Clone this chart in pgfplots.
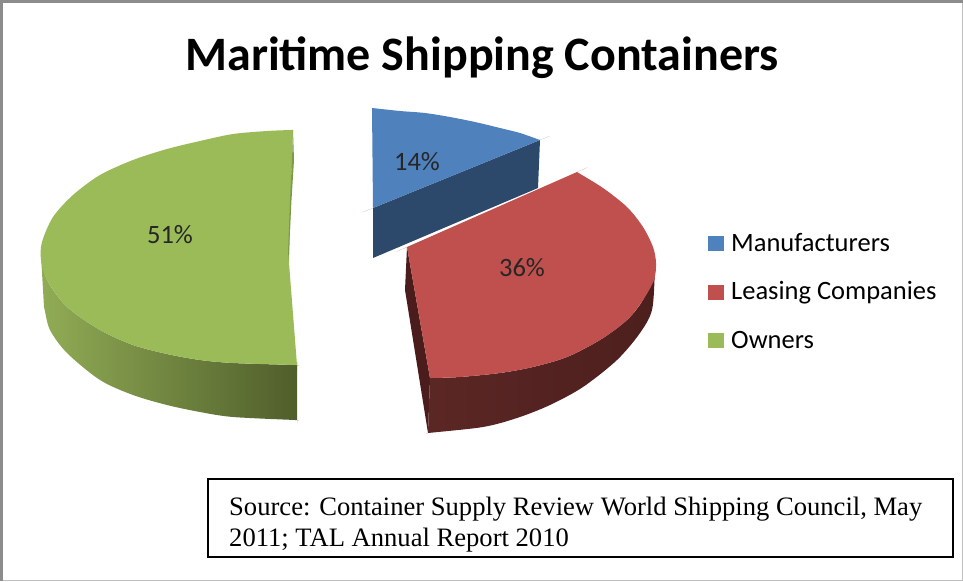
\documentclass[border=0pt]{standalone}
\usepackage{fontspec}
\setmainfont{Carlito}
\newfontfamily\serifbox{Liberation Serif}
\usepackage{pgfplots}
\pgfplotsset{compat=1.18}
\definecolor{cBlue}{RGB}{79,129,189}
\definecolor{cBlueSide}{RGB}{44,73,108}
\definecolor{cRed}{RGB}{192,80,77}
\definecolor{cRedL}{RGB}{92,39,37}
\definecolor{cRedM}{RGB}{76,31,29}
\definecolor{cRedFace}{RGB}{74,28,27}
\definecolor{cGreen}{RGB}{155,187,89}
\definecolor{cGreenL}{RGB}{145,172,85}
\definecolor{cGreenR}{RGB}{78,92,42}
\definecolor{cGreenEdge}{RGB}{125,155,70}
\begin{document}
\begin{tikzpicture}
\begin{axis}[
  width=963pt, height=581pt, scale only axis,
  xmin=0, xmax=963, ymin=0, ymax=581, y dir=reverse,
  axis lines=none, clip=true,
  legend style={at={(axis cs:708,232)}, anchor=north west, draw=none, fill=none,
    font=\fontsize{26.5}{28}\selectfont, row sep=23.5pt, inner sep=0pt,
    nodes={text height=19pt, text depth=6pt, inner sep=0pt},
    cells={anchor=west}, /tikz/column 1/.style={column sep=7pt}},
  legend image code/.code={\fill[#1] (0pt,-6.5pt) rectangle (16pt,8.5pt);},
]
% --- blue slice
\addplot[forget plot, fill=cBlueSide, draw=none] coordinates {
 (373,208) (540,140) (538,188) (373,258)} --cycle;
\addplot[fill=cBlue, draw=none, smooth, tension=0.5] coordinates {
 (372,108) (372,108) (372,108) (374,108.2) (400,111) (425,113) (450,117) (475,122) (500,128) (520,133) (538,139.3)
 (540,140) (540,140) (540,140) (373,208) (373,208) (373,208)} --cycle;
% --- red slice
\addplot[forget plot, fill=cRedFace, draw=none] coordinates {
 (407,247) (430,378) (428,433) (405,290)} --cycle;
\addplot[forget plot, draw=none, smooth, tension=0.5, left color=cRedL, middle color=cRedM, right color=cRedM] coordinates {
 (430,378) (430,378) (430,378) (432,378) (460,377) (500,373) (533,367) (567,357) (600,340) (627,320) (643,300) (654,274) (655,272) (655,272) (655,272) (654.8,274)
 (652,310) (640,333) (617,360) (583,387) (550,405) (517,418) (483,427) (430,432.8) (428,433) (428,433) (428,433)} --cycle;
\addplot[fill=cRed, draw=none, smooth, tension=0.5] coordinates {
 (407,247) (407,247) (407,247) (577,172) (577,172) (577,172) (579,173.2) (603,188) (627,207) (643,227) (653,247) (656,263) (654,280) (643,300)
 (627,320) (600,340) (567,357) (533,367) (500,373) (460,377) (432,378) (430,378) (430,378) (430,378)} --cycle;
% --- green slice
\addplot[forget plot, draw=none, smooth, tension=0.5, left color=cGreenL, right color=cGreenR] coordinates {
 (41,255) (41,255) (41,255) (41.5,257) (47,280) (67,307) (100,330) (133,345) (167,354) (200,360) (233,363) (295,365) (297,365) (297,365) (297,365)
 (297,420) (297,420) (297,420) (295,420) (233,417) (200,412) (167,405) (133,395) (100,380) (67,353) (50,330) (44.5,309) (44,307) (44,307) (44,307)} --cycle;
\addplot[fill=cGreen, draw=none, smooth, tension=0.5] coordinates {
 (293,130) (293,130) (293,130) (291,130) (267,131) (233,134) (200,141) (167,149) (133,160) (100,175) (73,195) (53,217)
 (42,242) (41,260) (47,280) (67,307) (100,330) (133,345) (167,354) (200,360) (233,363) (295,365) (297,365) (297,365) (297,365)
 (289,263) (289,263) (289,263) (292,160) (292,160) (292,160)} --cycle;
\addplot[forget plot, fill=cGreenEdge, draw=none] coordinates {
 (293,130) (294,160) (291.5,200) (288.5,260) (288,253) (290,200) (292,160)} --cycle;
\legend{Manufacturers, Leasing Companies, Owners}
% --- texts
\node[font=\fontsize{48}{52}\selectfont\bfseries] at (axis cs:482,57.5) {Maritime Shipping Containers};
\node[font=\fontsize{26.5}{28}\selectfont, text=black!85] at (axis cs:170,235) {51\%};
\node[font=\fontsize{26.5}{28}\selectfont, text=black!85] at (axis cs:417,162) {14\%};
\node[font=\fontsize{26.5}{28}\selectfont, text=black!85] at (axis cs:522,268) {36\%};
% --- frame and source box
\draw[black!25, line width=1pt] (axis cs:1,0) rectangle (axis cs:962.5,580.5);
\draw[black!45, line width=2.6pt] (axis cs:1.3,581) -- (axis cs:1.3,1.3) -- (axis cs:963,1.3);
\draw[black, line width=2pt] (axis cs:208,479) rectangle (axis cs:953,557);
\node[anchor=base west, font=\serifbox\fontsize{26.6}{30}\selectfont, inner sep=0pt] at (axis cs:229,515) {Source: Container Supply Review World Shipping Council, May};
\node[anchor=base west, font=\serifbox\fontsize{26.6}{30}\selectfont, inner sep=0pt] at (axis cs:229,546) {2011; TAL Annual Report 2010};
\end{axis}
\end{tikzpicture}
\end{document}
